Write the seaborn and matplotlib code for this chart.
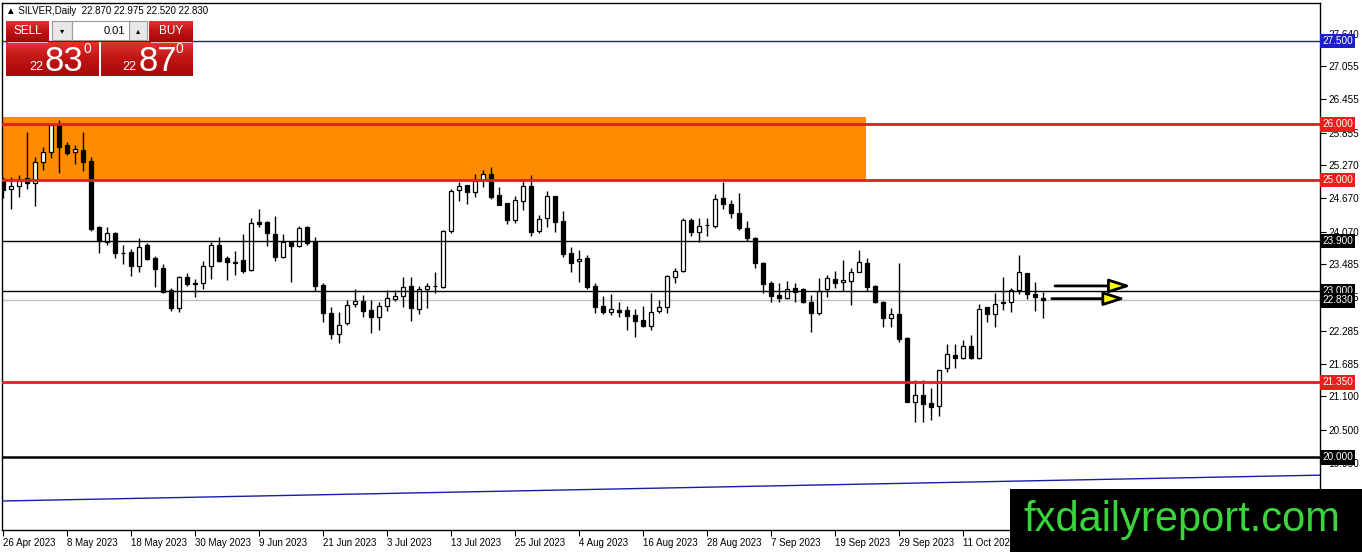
import numpy as np
import pandas as pd
import matplotlib
matplotlib.use('Agg')
import matplotlib.pyplot as plt
import matplotlib.transforms as mtransforms
from matplotlib.patches import Rectangle
from matplotlib.colors import LinearSegmentedColormap
import seaborn as sns

# daily OHLC (26 Apr 2023 -> late Oct 2023)
opens = [25.00, 24.84, 24.89, 25.04, 24.95, 25.32, 25.50, 25.99, 25.63, 25.50,
         25.54, 25.34, 24.15, 23.88, 24.05, 23.69, 23.70, 23.45, 23.83, 23.59,
         23.41, 23.02, 22.69, 23.25, 23.15, 23.14, 23.45, 23.83, 23.59, 23.53,
         23.56, 23.38, 24.24, 24.24, 24.03, 23.61, 23.89, 23.81, 24.15, 23.88,
         23.11, 22.60, 22.23, 22.42, 22.77, 22.82, 22.66, 22.53, 22.73, 22.85,
         22.91, 23.09, 22.68, 23.04, 23.08, 23.07, 24.08, 24.82, 24.91, 24.78,
         25.00, 25.11, 24.73, 24.59, 24.28, 24.62, 24.89, 24.08, 24.32, 24.71,
         24.26, 23.68, 23.54, 23.60, 23.09, 22.73, 22.62, 22.66, 22.66, 22.57,
         22.48, 22.37, 22.64, 22.71, 23.25, 23.36, 24.28, 24.06, 24.18, 24.17,
         24.68, 24.57, 24.41, 24.14, 23.96, 23.50, 23.14, 22.93, 22.87, 23.05,
         23.04, 22.80, 22.60, 23.04, 23.22, 23.16, 23.18, 23.34, 23.50, 23.09,
         22.80, 22.51, 22.59, 22.15, 21.00, 21.13, 20.98, 20.93, 21.61, 21.85,
         21.79, 22.01, 21.79, 22.71, 22.59, 22.79, 22.80, 23.02, 23.32, 22.95,
         22.87]
highs = [25.05, 25.05, 25.09, 25.86, 25.41, 25.59, 26.03, 26.08, 25.68, 25.63,
         25.86, 25.41, 24.17, 24.15, 24.07, 23.83, 23.76, 23.95, 23.87, 23.63,
         23.49, 23.05, 23.27, 23.32, 23.22, 23.54, 23.88, 23.97, 23.63, 23.72,
         24.03, 24.32, 24.48, 24.26, 24.35, 24.03, 23.90, 24.17, 24.17, 23.97,
         23.14, 22.71, 22.62, 22.84, 23.04, 22.93, 22.84, 22.80, 23.02, 23.02,
         23.25, 23.25, 23.09, 23.14, 23.34, 24.09, 24.84, 24.96, 24.91, 25.11,
         25.18, 25.23, 24.87, 24.59, 24.71, 24.98, 25.09, 24.37, 24.80, 24.71,
         24.44, 23.79, 23.74, 23.65, 23.14, 22.91, 22.95, 22.80, 22.73, 22.68,
         22.73, 22.96, 22.84, 23.29, 23.41, 24.32, 24.32, 24.32, 24.32, 24.75,
         24.96, 24.64, 24.77, 24.26, 23.97, 23.52, 23.18, 23.14, 23.18, 23.14,
         23.05, 22.93, 23.23, 23.29, 23.36, 23.56, 23.41, 23.74, 23.59, 23.11,
         22.82, 22.69, 23.50, 22.17, 21.40, 21.40, 21.25, 21.58, 22.04, 22.04,
         22.12, 22.21, 22.77, 22.71, 22.96, 23.25, 23.05, 23.65, 23.32, 23.16,
         22.975]
lows = [24.68, 24.48, 24.69, 24.84, 24.53, 25.18, 25.40, 25.13, 25.45, 25.29,
        25.16, 24.08, 23.68, 23.83, 23.59, 23.49, 23.27, 23.34, 23.55, 23.07,
        22.96, 22.64, 22.62, 23.09, 22.89, 23.04, 23.22, 23.52, 23.20, 23.29,
        23.32, 23.36, 24.15, 23.81, 23.54, 23.60, 23.16, 23.80, 23.83, 23.00,
        22.44, 22.14, 22.06, 22.39, 22.71, 22.53, 22.24, 22.30, 22.64, 22.82,
        22.71, 22.46, 22.59, 22.70, 22.96, 23.05, 24.05, 24.62, 24.57, 24.69,
        24.87, 24.66, 24.55, 24.21, 24.23, 24.46, 23.99, 24.05, 24.15, 24.06,
        23.61, 23.34, 23.16, 23.04, 22.60, 22.59, 22.57, 22.53, 22.30, 22.17,
        22.35, 22.30, 22.60, 22.60, 23.14, 23.34, 23.99, 23.88, 23.99, 24.14,
        24.48, 24.32, 24.10, 23.90, 23.41, 22.96, 22.80, 22.80, 22.86, 22.80,
        22.78, 22.26, 22.57, 22.89, 23.05, 23.00, 22.75, 23.34, 23.00, 22.78,
        22.35, 22.35, 22.08, 20.99, 20.64, 20.64, 20.68, 20.75, 21.54, 21.61,
        21.77, 21.77, 21.77, 22.44, 22.35, 22.66, 22.62, 22.95, 22.86, 22.64,
        22.52]
closes = [24.82, 24.89, 25.00, 24.95, 25.32, 25.50, 25.99, 25.59, 25.49, 25.56,
          25.32, 24.12, 23.90, 24.05, 23.68, 23.68, 23.45, 23.79, 23.58, 23.40,
          22.98, 22.69, 23.25, 23.13, 23.12, 23.45, 23.83, 23.54, 23.52, 23.51,
          23.36, 24.23, 24.21, 24.05, 23.61, 23.88, 23.81, 24.14, 23.86, 23.09,
          22.60, 22.23, 22.39, 22.75, 22.82, 22.64, 22.53, 22.73, 22.87, 22.91,
          23.07, 22.69, 23.04, 23.09, 23.09, 24.08, 24.80, 24.89, 24.78, 24.98,
          25.11, 24.69, 24.55, 24.28, 24.64, 24.89, 24.06, 24.30, 24.71, 24.24,
          23.67, 23.50, 23.57, 23.07, 22.71, 22.62, 22.68, 22.62, 22.55, 22.46,
          22.37, 22.62, 22.71, 23.27, 23.36, 24.28, 24.06, 24.17, 24.19, 24.66,
          24.57, 24.41, 24.14, 23.96, 23.50, 23.13, 22.91, 22.87, 23.04, 22.98,
          22.80, 22.60, 23.00, 23.23, 23.14, 23.20, 23.34, 23.52, 23.07, 22.80,
          22.51, 22.59, 22.14, 21.00, 21.13, 20.96, 20.91, 21.58, 21.86, 21.79,
          22.01, 21.79, 22.68, 22.59, 22.77, 22.80, 23.02, 23.34, 22.95, 22.89,
          22.83]

date_labels = ['26 Apr 2023', '8 May 2023', '18 May 2023', '30 May 2023', '9 Jun 2023',
               '21 Jun 2023', '3 Jul 2023', '13 Jul 2023', '25 Jul 2023', '4 Aug 2023',
               '16 Aug 2023', '28 Aug 2023', '7 Sep 2023', '19 Sep 2023', '29 Sep 2023',
               '11 Oct 2023']
price_ticks = [27.640, 27.055, 26.455, 25.855, 25.270, 24.670, 24.070, 23.485,
               22.885, 22.285, 21.685, 21.100, 20.500, 19.900]

# drawn objects
blue_level = [27.5]
red_levels = [26.0, 25.0, 21.35]
black_levels = [23.9, 23.0]
thick_black_levels = [20.0]
bid_level = [22.83]
zone_low, zone_high, zone_end = 25.0, 26.14, 107.9
trend_x = [-1, 165]
trend_y = [19.21, 19.68]
arrow_y = [23.09, 22.86]
arrow_from = [131.5, 131.1]
arrow_to = [141.0, 140.3]

W, H = 1362, 552
sns.set_theme(style='white')
plt.rcParams['font.family'] = ['Liberation Sans', 'DejaVu Sans']

fig = plt.figure(figsize=(W / 100, H / 100), dpi=100)
fig.patch.set_facecolor('white')
ax = fig.add_axes([2 / W, 22 / H, 1318 / W, 527 / H])
ax.set_facecolor('white')

n = len(opens)
x = np.arange(n)
df = pd.DataFrame({'x': x, 'open': opens, 'high': highs, 'low': lows, 'close': closes})
df['bull'] = df['close'] >= df['open']

# zone
ax.add_patch(Rectangle((-5, zone_low), zone_end + 5, zone_high - zone_low,
                       facecolor='#ff8c00', edgecolor='none', zorder=0))

# candles
ax.vlines(df['x'], df['low'], df['high'], color='black', lw=1, zorder=2)
body_bottom = df[['open', 'close']].min(axis=1)
body_h = (df['close'] - df['open']).abs()
ax.bar(df['x'], body_h, bottom=body_bottom, width=0.62,
       color=np.where(df['bull'], 'white', 'black'), edgecolor='black',
       linewidth=0.9, zorder=3)

# horizontal levels
for lv in blue_level:
    ax.axhline(lv, color='#1c1ca8', lw=1, zorder=4)
for lv in red_levels:
    ax.axhline(lv, color='#dd2020', lw=2, zorder=4)
for lv in black_levels:
    ax.axhline(lv, color='black', lw=1, zorder=4)
for lv in thick_black_levels:
    ax.axhline(lv, color='black', lw=1.8, zorder=4)
for lv in bid_level:
    ax.axhline(lv, color='#c0c0c0', lw=1, zorder=1)

# trend line
sns.lineplot(x=trend_x, y=trend_y, ax=ax, color='#1c1ca8', lw=1, zorder=4)

# arrows
for y0, xa, xb in zip(arrow_y, arrow_from, arrow_to):
    ax.annotate('', xy=(xb, y0), xytext=(xa, y0),
                arrowprops=dict(arrowstyle='-|>,head_length=1.3,head_width=0.42',
                                mutation_scale=10, lw=2, ec='black', fc='#ffff00',
                                shrinkA=0, shrinkB=0), zorder=5)

ax.set_xlim(-0.125, 164.625)
ax.set_ylim(18.69, 28.19)

ax.set_xticks(x[:len(date_labels) * 8:8])
ax.set_xticklabels(date_labels, ha='left', fontsize=7)
ax.set_yticks(price_ticks)
ax.set_yticklabels([f'{p:.3f}' for p in price_ticks], fontsize=7.2)
ax.yaxis.tick_right()
ax.tick_params(axis='both', direction='out', length=4, width=0.8, color='black',
               labelcolor='black', bottom=True, right=True, left=False)
ax.tick_params(axis='x', pad=2)
ax.tick_params(axis='y', pad=2)
for sp in ax.spines.values():
    sp.set_visible(True)
    sp.set_color('black')
    sp.set_linewidth(1)
ax.grid(False)

# price labels on the right scale
trans = mtransforms.blended_transform_factory(ax.transAxes, ax.transData)
label_sets = [(blue_level, '#1e1ed0'), (red_levels, '#ee1c1c'),
              (black_levels, 'black'), (thick_black_levels, 'black'), (bid_level, 'black')]
for levels, col in label_sets:
    for lv in levels:
        ax.text(1.0015, lv, f'{lv:.3f}', transform=trans, ha='left', va='center',
                fontsize=7.2, color='white', clip_on=False, zorder=6,
                bbox=dict(boxstyle='square,pad=0.22', fc=col, ec='none'))

# overlay in pixel coordinates: header, trade panel, watermark
ov = fig.add_axes([0, 0, 1, 1], zorder=10)
ov.patch.set_alpha(0)
ov.axis('off')

ov.text(6, 10.5, '▲ SILVER,Daily  22.870 22.975 22.520 22.830', fontsize=7,
        va='center', ha='left', color='black', family=['Liberation Sans', 'DejaVu Sans'])

red_cmap = LinearSegmentedColormap.from_list('r', ['#e03434', '#c01414', '#a80808'])
grad = np.linspace(0, 1, 64).reshape(-1, 1)
for (x0, x1, y0, y1) in [(6, 49, 21, 41), (149, 193, 21, 41), (6, 99, 42, 76), (101, 193, 42, 76)]:
    ov.imshow(grad, extent=(x0, x1, y1, y0), cmap=red_cmap, aspect='auto', zorder=1)
ov.plot([8, 47], [41.5, 41.5], color='#f0b0b0', lw=0.8, zorder=2)
ov.plot([151, 191], [41.5, 41.5], color='#f0b0b0', lw=0.8, zorder=2)

for (x0, x1) in [(52, 72), (129, 147)]:
    ov.add_patch(Rectangle((x0, 21), x1 - x0, 19, fc='#e8e8e8', ec='#9a9a9a', lw=0.8, zorder=2))
ov.add_patch(Rectangle((72, 21), 57, 19, fc='white', ec='#9a9a9a', lw=0.8, zorder=2))
ov.text(62, 30.5, '▾', fontsize=6, ha='center', va='center', color='black', zorder=3,
        family='DejaVu Sans')
ov.text(138, 30.5, '▴', fontsize=6, ha='center', va='center', color='black', zorder=3,
        family='DejaVu Sans')
ov.text(125, 30.5, '0.01', fontsize=8, ha='right', va='center', color='black', zorder=3)
ov.text(27.5, 31, 'SELL', fontsize=8.5, ha='center', va='center', color='white', zorder=3)
ov.text(171, 31, 'BUY', fontsize=8.5, ha='center', va='center', color='white', zorder=3)

for (xs, small, big, sup) in [(29, '22', '83', '0'), (122, '22', '87', '0')]:
    ov.text(xs, 70, small, fontsize=9, ha='left', va='baseline', color='white', zorder=3)
    ov.text(xs + 16, 71, big, fontsize=25, ha='left', va='baseline', color='white', zorder=3)
    ov.text(xs + 54, 53, sup, fontsize=10, ha='left', va='baseline', color='white', zorder=3)

ov.add_patch(Rectangle((1010, 489), 352, 63, fc='black', ec='none', zorder=4))
ov.text(1182, 531, 'fxdailyreport.com', fontsize=30, ha='center', va='baseline',
        color='#3cd43c', zorder=5)

ov.set_xlim(0, W)
ov.set_ylim(H, 0)

fig.savefig('out.png', dpi=100)
